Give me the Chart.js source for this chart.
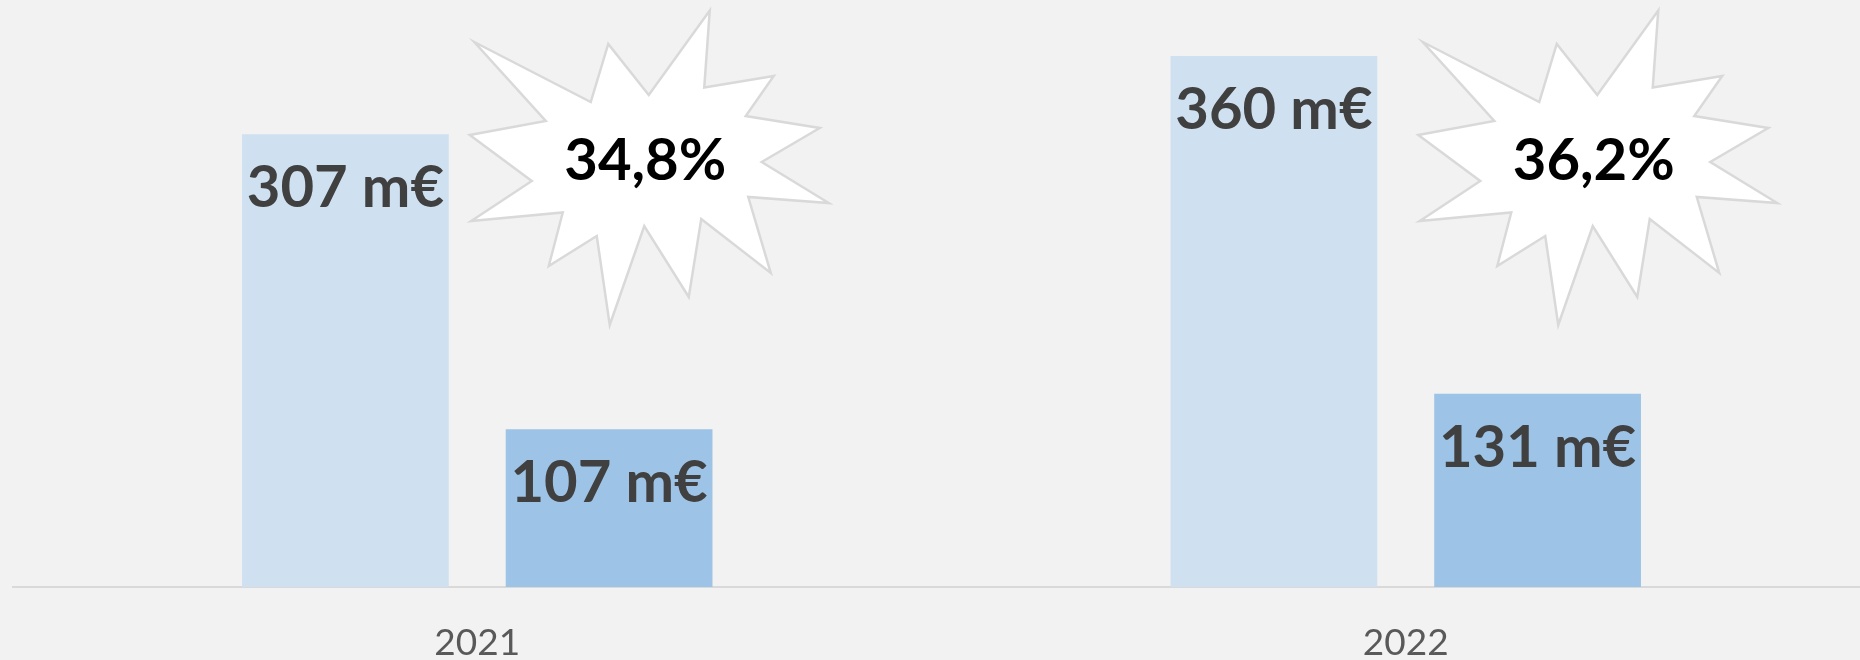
<!DOCTYPE html>
<html>
<head>
<meta charset="utf-8">
<script src="https://cdn.jsdelivr.net/npm/chart.js@4/dist/chart.umd.min.js"></script>
<style>
  html, body { margin: 0; padding: 0; background: #f2f2f2; overflow: hidden; }
  #wrap { width: 1872px; height: 660px; }
</style>
</head>
<body>
<div id="wrap"><canvas id="chart" width="1872" height="660"></canvas></div>
<script>
const years = ['2021', '2022'];
const serieA = [307, 360];
const serieB = [107, 131];
const barLabelsA = ['307 m€', '360 m€'];
const barLabelsB = ['107 m€', '131 m€'];
const ratios = ['34,8%', '36,2%'];

// star outline, relative to the text centre
const starPts = [
    [-171, -117], [-54.5, -57], [-37, -115], [3.5, -64], [64.5, -148.5], [59, -71.5],
    [128.5, -83], [100.5, -43], [174.5, -31], [116.5, 3], [183.5, 44], [103, 38],
    [125.5, 114], [56, 60], [43.5, 138], [-1, 67], [-35.5, 166], [-48.5, 77],
    [-96.5, 107], [-82.5, 53.5], [-174, 62], [-113.5, 22], [-175.5, -24], [-99.5, -38],
];
const starOffsetX = [168, 188];
const starCenterY = 159;

const labelsPlugin = {
    id: 'labels',
    afterDatasetsDraw(chart) {
        const ctx = chart.ctx;
        ctx.save();
        ctx.textAlign = 'center';
        ctx.textBaseline = 'alphabetic';
        ctx.font = 'bold 58px Lato';
        ctx.fillStyle = '#404040';
        [barLabelsA, barLabelsB].forEach((lbls, di) => {
            chart.getDatasetMeta(di).data.forEach((bar, i) => {
                ctx.fillText(lbls[i], bar.x, bar.y + 73);
            });
        });

        const x = chart.scales.x;
        ratios.forEach((txt, i) => {
            const cx = x.getPixelForValue(i) + starOffsetX[i];
            const cy = starCenterY;
            ctx.beginPath();
            starPts.forEach(([dx, dy], k) => k ? ctx.lineTo(cx + dx, cy + dy) : ctx.moveTo(cx + dx, cy + dy));
            ctx.closePath();
            ctx.fillStyle = '#ffffff';
            ctx.fill();
            ctx.lineWidth = 2.5;
            ctx.strokeStyle = '#d9d9d9';
            ctx.stroke();
            ctx.fillStyle = '#000000';
            ctx.fillText(txt, cx, cy + 21);
        });
        ctx.restore();
    }
};

new Chart(document.getElementById('chart'), {
    type: 'bar',
    data: {
        labels: years,
        datasets: [
            { label: 'Série 1', data: serieA, backgroundColor: '#cfe0f1' },
            { label: 'Série 2', data: serieB, backgroundColor: '#9dc3e6' },
        ],
    },
    options: {
        responsive: false,
        animation: false,
        devicePixelRatio: 1,
        categoryPercentage: 0.568,
        barPercentage: 0.784,
        layout: { padding: { left: 13, right: 2, top: 0, bottom: 0 } },
        plugins: { legend: { display: false }, tooltip: { enabled: false } },
        scales: {
            x: {
                grid: { display: false, drawTicks: false },
                border: { display: true, color: '#d9d9d9', width: 2 },
                ticks: { color: '#595959', font: { family: 'Lato', size: 37 }, padding: 34 },
                afterFit: s => { s.height = 73; },
            },
            y: { display: false, min: 0, max: 398 },
        },
    },
    plugins: [labelsPlugin],
});
</script>
</body>
</html>
